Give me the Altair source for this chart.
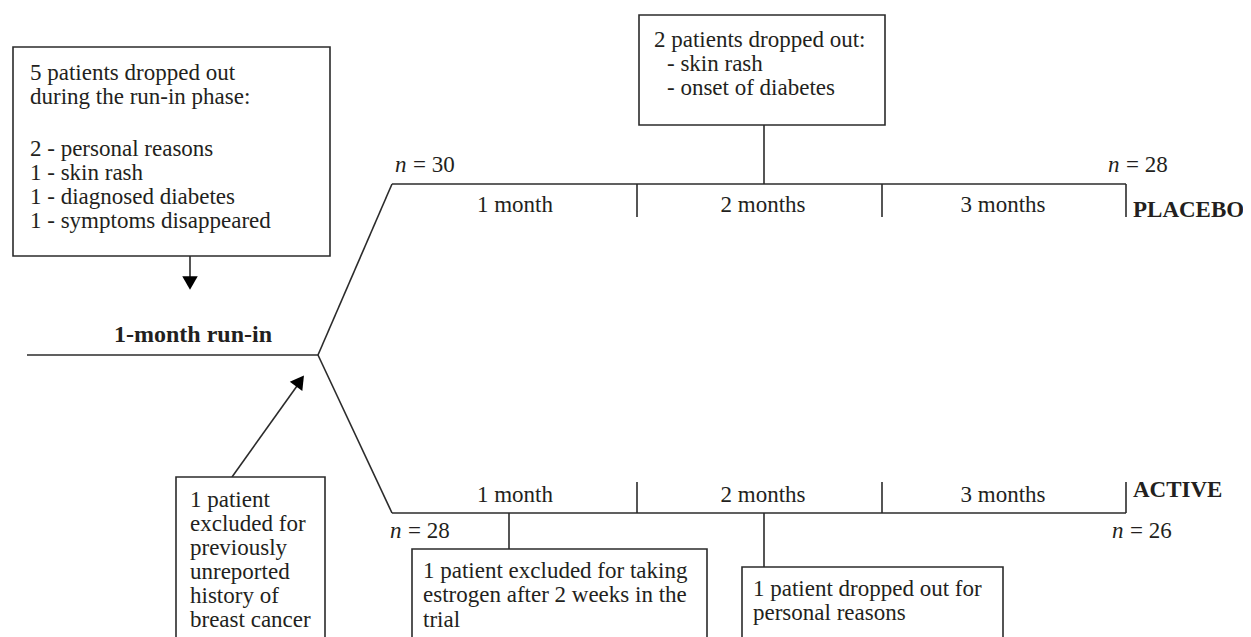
import altair as alt
import pandas as pd

FONT = "Liberation Serif"
INK = "#231f20"
LINE = "#2b2b2b"
FS = 23

# ---- line segments (x1, y1, x2, y2) in page pixels ----
seg_x1 = [27, 318, 318, 392, 392, 637, 882, 1126, 637, 882, 1126, 764, 509, 764, 190, 232]
seg_y1 = [355, 355, 355, 184, 513, 184, 184, 184, 513, 513, 513, 125, 513, 513, 256, 477]
seg_x2 = [318, 392, 392, 1126, 1126, 637, 882, 1126, 637, 882, 1126, 764, 509, 764, 190, 302]
seg_y2 = [355, 184, 513, 184, 513, 217, 217, 217, 482, 482, 482, 184, 549, 567, 280, 379]

# ---- boxes ----
box_x1 = [13, 639, 176, 412, 742]
box_y1 = [47, 15, 477, 549, 567]
box_x2 = [330, 885, 325, 707, 1003]
box_y2 = [256, 125, 680, 680, 680]

# ---- arrowheads ----
arr_x = [190, 300]
arr_y = [283, 381]
arr_angle = [180, 36]

# ---- regular text lines (left aligned) ----
txt_x = [30] * 6 + [654, 667, 667] + [190] * 6 + [423] * 3 + [753] * 2
txt_y = [80, 104, 156, 180, 204, 228, 47, 71, 95,
         507, 531, 555, 579, 603, 627, 578, 602, 627, 596, 620]
txt = [
    "5 patients dropped out", "during the run-in phase:",
    "2 - personal reasons", "1 - skin rash", "1 - diagnosed diabetes", "1 - symptoms disappeared",
    "2 patients dropped out:", "- skin rash", "- onset of diabetes",
    "1 patient", "excluded for", "previously", "unreported", "history of", "breast cancer",
    "1 patient excluded for taking", "estrogen after 2 weeks in the", "trial",
    "1 patient dropped out for", "personal reasons",
]

# ---- month labels (centered) ----
mon_x = [515, 763, 1003, 515, 763, 1003]
mon_y = [212, 212, 212, 502, 502, 502]
mon_t = ["1 month", "2 months", "3 months", "1 month", "2 months", "3 months"]

# ---- bold labels ----
bold_x = [193, 1133, 1133]
bold_y = [342, 217, 497]
bold_t = ["1-month run-in", "PLACEBO", "ACTIVE"]
bold_size = [24, 23, 23]
bold_align = ["center", "left", "left"]

# ---- n = labels ----
n_x = [395, 1108, 390, 1112]
n_y = [172, 172, 538, 538]
n_val = ["= 30", "= 28", "= 28", "= 26"]
n_gap = 18

segs = pd.DataFrame({"x": seg_x1, "y": seg_y1, "x2": seg_x2, "y2": seg_y2})
boxes = pd.DataFrame({"x": box_x1, "y": box_y1, "x2": box_x2, "y2": box_y2})
arrows = pd.DataFrame({"x": arr_x, "y": arr_y, "a": arr_angle})
texts = pd.DataFrame({"x": txt_x, "y": txt_y, "t": txt})
months = pd.DataFrame({"x": mon_x, "y": mon_y, "t": mon_t})
bolds = pd.DataFrame({"x": bold_x, "y": bold_y, "t": bold_t, "al": bold_align, "s": bold_size})
ns = pd.DataFrame({"x": n_x, "y": n_y, "v": n_val})
ns["x_eq"] = ns["x"] + n_gap
ns["n"] = "n"

W, H = 1235, 660
xs = alt.Scale(domain=[8, 8 + W], nice=False, zero=False)
ys = alt.Scale(domain=[8, 8 + H], nice=False, zero=False, reverse=True)
X = lambda f="x": alt.X(f"{f}:Q", scale=xs, axis=None)
Y = lambda f="y": alt.Y(f"{f}:Q", scale=ys, axis=None)

rules = alt.Chart(segs).mark_rule(color=LINE, strokeWidth=1.6).encode(
    x=X(), y=Y(), x2="x2:Q", y2="y2:Q")

rects = alt.Chart(boxes).mark_rect(fill="white", stroke=LINE, strokeWidth=1.6).encode(
    x=X(), y=Y(), x2="x2:Q", y2="y2:Q")

heads = alt.Chart(arrows).mark_point(shape="triangle-up", filled=True, color="black",
                                     size=240, opacity=1).encode(
    x=X(), y=Y(), angle=alt.Angle("a:Q", scale=None))

body = alt.Chart(texts).mark_text(font=FONT, fontSize=FS, color=INK, align="left",
                                  baseline="alphabetic").encode(x=X(), y=Y(), text="t:N")

mon = alt.Chart(months).mark_text(font=FONT, fontSize=FS, color=INK, align="center",
                                  baseline="alphabetic").encode(x=X(), y=Y(), text="t:N")

bold_center = alt.Chart(bolds[bolds.al == "center"]).mark_text(
    font=FONT, fontWeight="bold", color=INK, align="center",
    baseline="alphabetic").encode(x=X(), y=Y(), text="t:N",
                                   size=alt.Size("s:Q", scale=None, legend=None))
bold_left = alt.Chart(bolds[bolds.al == "left"]).mark_text(
    font=FONT, fontWeight="bold", color=INK, align="left",
    baseline="alphabetic").encode(x=X(), y=Y(), text="t:N",
                                   size=alt.Size("s:Q", scale=None, legend=None))

n_it = alt.Chart(ns).mark_text(font=FONT, fontSize=FS, fontStyle="italic", color=INK,
                               align="left", baseline="alphabetic").encode(
    x=X(), y=Y(), text="n:N")
n_eq = alt.Chart(ns).mark_text(font=FONT, fontSize=FS, color=INK, align="left",
                               baseline="alphabetic").encode(
    x=X("x_eq"), y=Y(), text="v:N")

chart = alt.layer(rules, rects, heads, body, mon, bold_center, bold_left, n_it, n_eq).properties(
    width=W, height=H, padding=0, autosize=alt.AutoSizeParams(type="none")
).configure_view(stroke=None)

chart.save("out.html", embed_options={"renderer": "svg", "actions": False})
